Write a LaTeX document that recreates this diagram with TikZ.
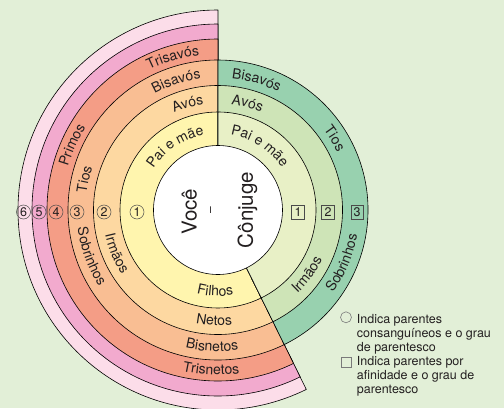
\documentclass[tikz,border=0pt]{standalone}
\usepackage{fontspec}
\setmainfont{TeX Gyre Heros}
\usetikzlibrary{decorations.text}
\definecolor{bg}{HTML}{E2EFD7}
\definecolor{txt}{HTML}{231F20}
\definecolor{pinkL}{HTML}{FCDDE9}
\definecolor{pinkM}{HTML}{F2AACE}
\definecolor{salmon}{HTML}{F49D86}
\definecolor{peach}{HTML}{F9BE93}
\definecolor{orangeL}{HTML}{FDD8A1}
\definecolor{yellowL}{HTML}{FFF5AE}
\definecolor{greenD}{HTML}{98D1AF}
\definecolor{greenM}{HTML}{CEE4B7}
\definecolor{greenL}{HTML}{E8F0C6}
\definecolor{numgray}{HTML}{4A4A4A}
\definecolor{leggray}{HTML}{7A7A7A}
\newcommand\lblfont{\fontsize{14}{16}\selectfont\color{txt}}
\tikzset{
  ring/.style={draw=black, line width=0.6pt, line join=round},
  arctext/.style={decorate, decoration={text along path, text align=center}},
  cnum/.style={circle, draw=numgray, line width=0.5pt, minimum size=14pt, inner sep=0pt, font=\fontsize{12.5}{13}\selectfont, text=txt},
  bnum/.style={rectangle, draw=numgray, line width=0.5pt, minimum width=12.5pt, minimum height=13.5pt, inner sep=0pt, font=\fontsize{12.5}{13}\selectfont, text=txt},
  center text/.style={rotate=90, inner sep=0pt, font=\fontsize{20.5}{22}\selectfont, text=txt},
  legend/.style={align=left, inner sep=0pt, font=\fontsize{12.5}{14}\selectfont, text=txt},
  legmark/.style={draw=leggray, line width=0.6pt, inner sep=0pt}
}
\newcommand\leftslice[2]{\filldraw[ring, fill=#2] (0,0) -- (90:#1pt) arc[start angle=90, end angle=296.2, radius=#1pt] -- cycle;}
\newcommand\rightslice[2]{\filldraw[ring, fill=#2] (0,0) -- (-63.8:#1pt) arc[start angle=-63.8, end angle=90, radius=#1pt] -- cycle;}
\newcommand\cwlabel[3]{\pgfmathsetmacro\lblA{#2+40}\pgfmathsetmacro\lblB{#2-40}%
  \path[arctext, decoration={text={|\lblfont|#3}}] (\lblA:#1pt) arc[start angle=\lblA, end angle=\lblB, radius=#1pt];}
\newcommand\ccwlabel[3]{\pgfmathsetmacro\lblA{#2-40}\pgfmathsetmacro\lblB{#2+40}%
  \path[arctext, decoration={text={|\lblfont|#3}}] (\lblA:#1pt) arc[start angle=\lblA, end angle=\lblB, radius=#1pt];}
\begin{document}
\begin{tikzpicture}[x=1pt,y=1pt]
\useasboundingbox (-218,-198) rectangle (286,210);
\clip (-218,-198) rectangle (286,210);
\fill[bg] (-218,-198) rectangle (286,210);
% left (consanguineous) rings
\leftslice{200}{pinkL}
\leftslice{186}{pinkM}
\leftslice{171}{salmon}
\leftslice{150}{peach}
\leftslice{124.5}{orangeL}
\leftslice{98}{yellowL}
% right (affinity) rings
\rightslice{150}{greenD}
\rightslice{124.5}{greenM}
\rightslice{98}{greenL}
% centre
\filldraw[ring, fill=white] (0,0) circle[radius=64.5pt];
\node[center text] (voce) at (-28.8,-1.7) {Você};
\node[center text, font=\fontsize{12}{13}\selectfont] (dash) at (-6,0.3) {–};
\node[center text] (conjuge) at (29.5,0) {Cônjuge};
% labels on top (clockwise)
\cwlabel{76.5}{124}{Pai e mãe}
\cwlabel{76.5}{57}{Pai e mãe}
\cwlabel{106.5}{106}{Avós}
\cwlabel{106.5}{74.5}{Avós}
\cwlabel{132.5}{108}{Bisavós}
\cwlabel{132.5}{73.5}{Bisavós}
\cwlabel{156}{106.5}{Trisavós}
\cwlabel{132.5}{31.5}{Tios}
\cwlabel{132.5}{167}{Tios}
\cwlabel{156}{156}{Primos}
% labels at bottom (counter-clockwise)
\ccwlabel{86}{268}{Filhos}
\ccwlabel{115.5}{268}{Netos}
\ccwlabel{141.5}{267.5}{Bisnetos}
\ccwlabel{165}{267.5}{Trisnetos}
\ccwlabel{141.5}{200}{Sobrinhos}
\ccwlabel{115.5}{203}{Irmãos}
\ccwlabel{115.5}{324}{Irmãos}
\ccwlabel{141.5}{337}{Sobrinhos}
% degree numbers
\node[cnum] (c6) at (-194.5,-2) {6};
\node[cnum] (c5) at (-179,-2) {5};
\node[cnum] (c4) at (-162,-2) {4};
\node[cnum] (c3) at (-141,-2) {3};
\node[cnum] (c2) at (-114,-2) {2};
\node[cnum] (c1) at (-81,-2) {1};
\node[bnum] (b1) at (80,-2) {1};
\node[bnum] (b2) at (110,-2) {2};
\node[bnum] (b3) at (139,-2) {3};
% legend
\node[legmark, circle, minimum size=11pt] (lgc) at (128,-107.3) {};
\node[legend, anchor=north west] (lg1) at (138.7,-104.2) {Indica parentes\\consanguíneos e o grau\\de parentesco};
\node[legmark, rectangle, minimum size=10pt] (lgs) at (128,-152.3) {};
\node[legend, anchor=north west] (lg2) at (138.7,-145.9) {Indica parentes por\\afinidade e o grau de\\parentesco};
\end{tikzpicture}
\end{document}
